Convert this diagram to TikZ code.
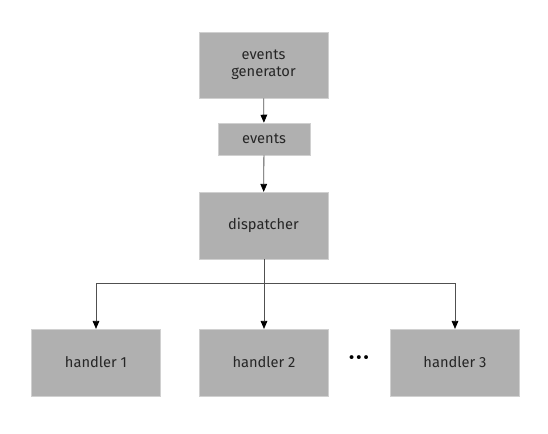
\documentclass[tikz,border=0pt]{standalone}
\usepackage{fontspec}
\setmainfont{Fira Sans}
\usetikzlibrary{arrows.meta}
\definecolor{boxgray}{HTML}{B0B0B0}
\definecolor{linegray}{HTML}{505050}
\begin{document}
\begin{tikzpicture}[x=0.75pt,y=-0.75pt,
  box/.style={fill=boxgray, draw=boxgray!60!white, line width=0.4pt, inner sep=0pt, align=center, font=\fontsize{11}{13}\selectfont, text=black!85},
  conn/.style={draw=linegray, line width=0.6pt, -{Triangle[length=6pt,width=5pt,black]}}]
\useasboundingbox (0,0) rectangle (548,433);
\node[box, minimum width=97pt, minimum height=49.5pt] (gen) at (263.5,65) {events\\generator};
\node[box, minimum width=69pt, minimum height=24pt] (ev) at (264,139) {events};
\node[box, minimum width=97pt, minimum height=50pt] (disp) at (263.5,225.5) {dispatcher};
\node[box, minimum width=97pt, minimum height=50pt] (h1) at (96,362.5) {handler 1};
\node[box, minimum width=97pt, minimum height=50pt] (h2) at (264,362.5) {handler 2};
\node[box, minimum width=97pt, minimum height=50pt] (h3) at (455,362.5) {handler 3};
\node[font=\fontsize{13}{13}\selectfont, inner sep=0pt] (dots) at (359,360) {\textbullet\hspace{1.2pt}\textbullet\hspace{1.2pt}\textbullet};
\coordinate (split) at (264,283);
\draw[conn] (gen) -- (ev);
\draw[conn] (ev) -- (disp);
\draw[conn] (disp.south -| h2) -- (h2);
\draw[conn] (split) -| (h1);
\draw[conn] (split) -| (h3);
\end{tikzpicture}
\end{document}
